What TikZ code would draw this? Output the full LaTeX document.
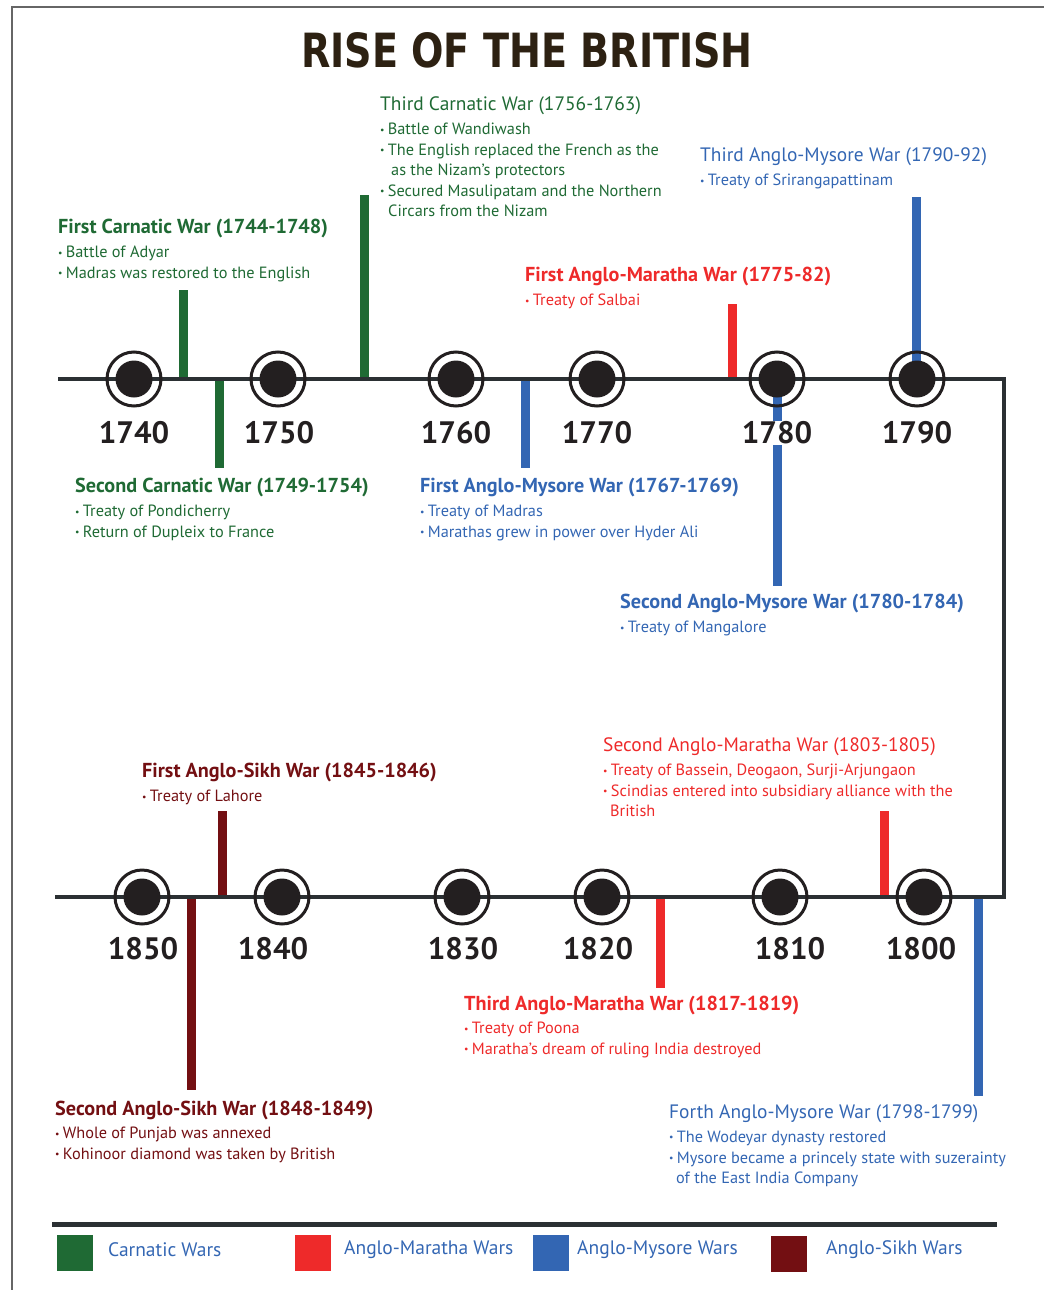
\documentclass[tikz,border=0pt]{standalone}
\usepackage{fontspec}
\usepackage{graphicx}
\setmainfont{PT Sans}
\newfontfamily\titlefont{DejaVu Sans}

\definecolor{carnatic}{HTML}{1F6A34}
\definecolor{maratha}{HTML}{EE2A2A}
\definecolor{mysore}{HTML}{3366B3}
\definecolor{sikh}{HTML}{730F12}
\definecolor{axisgray}{HTML}{2B3033}
\definecolor{dotblack}{HTML}{231F20}
\definecolor{titlebrown}{HTML}{2D2112}

\newcommand{\itemdot}{\raisebox{0.1em}{\scalebox{0.6}{\textbullet}}\hspace{0.2em}}

\tikzset{
  bar/.style={line width=9pt},
  axis/.style={line width=4pt, draw=axisgray},
  ring/.style={circle, draw=dotblack, line width=3pt, minimum size=54pt, inner sep=0pt},
  blackdot/.style={circle, fill=dotblack, minimum size=37pt, inner sep=0pt},
  yearlabel/.style={font=\fontsize{31}{31}\selectfont\bfseries, text=dotblack, fill=white, inner sep=1pt},
  warhead/.style={font=\fontsize{20.2}{20}\selectfont\bfseries, anchor=west, inner sep=0pt},
  warlight/.style={font=\fontsize{19.4}{20}\selectfont, anchor=west, inner sep=0pt},
  warnote/.style={font=\fontsize{16.3}{20.5}\selectfont, anchor=north west, align=left, inner sep=0pt},
  keybox/.style={minimum size=36pt, inner sep=0pt, anchor=north west},
  keytext/.style={font=\fontsize{19.5}{20}\selectfont, text=mysore, anchor=west, inner sep=0pt},
}

\begin{document}
\begin{tikzpicture}[x=1pt, y=-1pt]
\useasboundingbox (0,0) rectangle (1044,1290);

% frame
\draw[line width=1.5pt, gray!80!black] (12,1290) -- (12,7) -- (1044,7);

% title
\node[text=titlebrown, inner sep=0pt] (title) at (527,50)
  {\resizebox{452pt}{35pt}{\titlefont\bfseries RISE OF THE BRITISH}};

% timeline corners
\coordinate (topstart) at (58,379);
\coordinate (topend) at (1004,379);
\coordinate (lowend) at (1004,897);
\coordinate (lowstart) at (55,897);

% bars
\coordinate (c1a) at (183,290);  \coordinate (c1b) at (183,379);
\coordinate (c2a) at (219,379);  \coordinate (c2b) at (219,468);
\coordinate (c3a) at (364,195);  \coordinate (c3b) at (364,379);
\coordinate (y1a) at (525,379);  \coordinate (y1b) at (525,468);
\coordinate (m1a) at (732,304);  \coordinate (m1b) at (732,379);
\coordinate (y2a) at (777,379);  \coordinate (y2b) at (777,586);
\coordinate (y3a) at (916,197);  \coordinate (y3b) at (916,379);
\coordinate (s1a) at (222,811);  \coordinate (s1b) at (222,897);
\coordinate (s2a) at (191,897);  \coordinate (s2b) at (191,1090);
\coordinate (m3a) at (660,897);  \coordinate (m3b) at (660,988);
\coordinate (m2a) at (884,811);  \coordinate (m2b) at (884,897);
\coordinate (y4a) at (978,897);  \coordinate (y4b) at (978,1096);

\draw[bar, carnatic] (c1a) -- (c1b);
\draw[bar, carnatic] (c2a) -- (c2b);
\draw[bar, carnatic] (c3a) -- (c3b);
\draw[bar, mysore] (y1a) -- (y1b);
\draw[bar, maratha] (m1a) -- (m1b);
\draw[bar, mysore] (y2a) -- (y2b);
\draw[bar, mysore] (y3a) -- (y3b);
\draw[bar, sikh] (s1a) -- (s1b);
\draw[bar, sikh] (s2a) -- (s2b);
\draw[bar, maratha] (m3a) -- (m3b);
\draw[bar, maratha] (m2a) -- (m2b);
\draw[bar, mysore] (y4a) -- (y4b);

% timeline
\draw[axis] (topstart) -- (topend) -- (lowend) -- (lowstart);

% years, upper row
\foreach \yr/\xx in {1740/134, 1750/278, 1760/456, 1770/597, 1780/777, 1790/917} {
  \node[ring] (r\yr) at (\xx,379) {};
  \node[blackdot] (d\yr) at (\xx,379) {};
}
\node[yearlabel] (l1740) at (134,433) {1740};
\node[yearlabel] (l1750) at (279,433) {1750};
\node[yearlabel] (l1760) at (456,433) {1760};
\node[yearlabel] (l1770) at (597,433) {1770};
\node[yearlabel] (l1780) at (777,433) {1780};
\node[yearlabel] (l1790) at (917,433) {1790};

% years, lower row
\foreach \yr/\xx in {1850/142, 1840/282, 1830/462, 1820/602, 1810/780, 1800/924} {
  \node[ring] (r\yr) at (\xx,897) {};
  \node[blackdot] (d\yr) at (\xx,897) {};
}
\node[yearlabel] (l1850) at (143,949) {1850};
\node[yearlabel] (l1840) at (273,949) {1840};
\node[yearlabel] (l1830) at (463,949) {1830};
\node[yearlabel] (l1820) at (598,949) {1820};
\node[yearlabel] (l1810) at (790,949) {1810};
\node[yearlabel] (l1800) at (921,949) {1800};

% wars above the upper row
\node[warlight, text=carnatic] (h3carnatic) at (380,106) {Third Carnatic War (1756-1763)};
\node[warnote, text=carnatic] (n3carnatic) at (380,123)
  {\itemdot Battle of Wandiwash\\
   \itemdot The English replaced the French as the\\
   \hspace*{11pt}as the Nizam’s protectors\\
   \itemdot Secured Masulipatam and the Northern\\
   \hspace*{8pt}Circars from the Nizam};

\node[warlight, text=mysore] (h3mysore) at (700,157) {Third Anglo-Mysore War (1790-92)};
\node[warnote, text=mysore] (n3mysore) at (700,174) {\itemdot Treaty of Srirangapattinam};

\node[warhead, text=carnatic] (h1carnatic) at (58,229) {First Carnatic War (1744-1748)};
\node[warnote, text=carnatic] (n1carnatic) at (58,246)
  {\itemdot Battle of Adyar\\ \itemdot Madras was restored to the English};

\node[warhead, text=maratha] (h1maratha) at (525,277) {First Anglo-Maratha War (1775-82)};
\node[warnote, text=maratha] (n1maratha) at (525,294) {\itemdot Treaty of Salbai};

% wars below the upper row
\node[warhead, text=carnatic] (h2carnatic) at (75,488) {Second Carnatic War (1749-1754)};
\node[warnote, text=carnatic] (n2carnatic) at (75,505)
  {\itemdot Treaty of Pondicherry\\ \itemdot Return of Dupleix to France};

\node[warhead, text=mysore] (h1mysore) at (420,488) {First Anglo-Mysore War (1767-1769)};
\node[warnote, text=mysore] (n1mysore) at (420,505)
  {\itemdot Treaty of Madras\\ \itemdot Marathas grew in power over Hyder Ali};

\node[warhead, text=mysore] (h2mysore) at (620,604) {Second Anglo-Mysore War (1780-1784)};
\node[warnote, text=mysore] (n2mysore) at (620,621) {\itemdot Treaty of Mangalore};

% wars above the lower row
\node[warlight, text=maratha] (h2maratha) at (603,747) {Second Anglo-Maratha War (1803-1805)};
\node[warnote, text=maratha] (n2maratha) at (603,764)
  {\itemdot Treaty of Bassein, Deogaon, Surji-Arjungaon\\
   \itemdot Scindias entered into subsidiary alliance with the\\
   \hspace*{7pt}British};

\node[warhead, text=sikh] (h1sikh) at (142,773) {First Anglo-Sikh War (1845-1846)};
\node[warnote, text=sikh] (n1sikh) at (142,790) {\itemdot Treaty of Lahore};

% wars below the lower row
\node[warhead, text=maratha] (h3maratha) at (464,1005) {Third Anglo-Maratha War (1817-1819)};
\node[warnote, text=maratha] (n3maratha) at (464,1022)
  {\itemdot Treaty of Poona\\ \itemdot Maratha’s dream of ruling India destroyed};

\node[warhead, text=sikh] (h2sikh) at (55,1110) {Second Anglo-Sikh War (1848-1849)};
\node[warnote, text=sikh] (n2sikh) at (55,1127)
  {\itemdot Whole of Punjab was annexed\\ \itemdot Kohinoor diamond was taken by British};

\node[warlight, text=mysore] (h4mysore) at (669,1114) {Forth Anglo-Mysore War (1798-1799)};
\node[warnote, text=mysore] (n4mysore) at (669,1131)
  {\itemdot The Wodeyar dynasty restored\\
   \itemdot Mysore became a princely state with suzerainty\\
   \hspace*{7pt}of the East India Company};

% legend
\coordinate (keyleft) at (52,1224);
\coordinate (keyright) at (997,1224);
\draw[line width=5pt, axisgray] (keyleft) -- (keyright);
\node[keybox, fill=carnatic] (kcarnatic) at (57,1235) {};
\node[keybox, fill=maratha] (kmaratha) at (295,1235) {};
\node[keybox, fill=mysore] (kmysore) at (533,1235) {};
\node[keybox, fill=sikh] (ksikh) at (771,1236) {};
\node[keytext] (tcarnatic) at (108,1250) {Carnatic Wars};
\node[keytext] (tmaratha) at (344,1250) {Anglo-Maratha Wars};
\node[keytext] (tmysore) at (577,1250) {Anglo-Mysore Wars};
\node[keytext] (tsikh) at (826,1250) {Anglo-Sikh Wars};
\end{tikzpicture}
\end{document}
